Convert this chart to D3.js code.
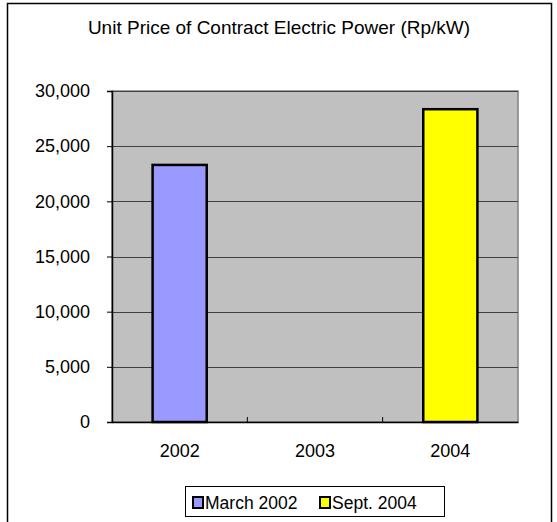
<!DOCTYPE html>
<html>
<head>
<meta charset="utf-8">
<script src="https://cdn.jsdelivr.net/npm/d3@7"></script>
<style>
body{margin:0;background:#fff;}
svg{display:block;font-family:"Liberation Sans",Arial,sans-serif;}
</style>
</head>
<body>
<div class="chart"></div>
<script>
var width=557,
    height=522;

var years=['2002','2003','2004'];
var series=['March 2002','Sept. 2004'];
var values=[23300,null,28350];
var colors=['#9999ff',null,'#ffff00'];
var legendColors=['#9999ff','#ffff00'];
var yTicks=[0,5000,10000,15000,20000,25000,30000];

var plot={left:112,top:91,right:518,bottom:422};
var font='"Liberation Sans",Arial,sans-serif';

var svg=d3.select('.chart')
    .append('svg')
    .attr('width',width)
    .attr('height',height);

// outer frame
svg.append('rect')
    .attr('x',7.5).attr('y',3.5)
    .attr('width',544).attr('height',530)
    .attr('fill','#fff')
    .attr('stroke','#000')
    .attr('stroke-width',1.5);

svg.append('text')
    .attr('x',279).attr('y',34)
    .attr('text-anchor','middle')
    .attr('font-size',19)
    .text('Unit Price of Contract Electric Power (Rp/kW)');

var x=d3.scaleBand()
    .domain(years)
    .range([plot.left,plot.right]);

var y=d3.scaleLinear()
    .domain([0,30000])
    .range([plot.bottom,plot.top]);

// plot area
svg.append('rect')
    .attr('x',plot.left).attr('y',plot.top)
    .attr('width',plot.right-plot.left).attr('height',plot.bottom-plot.top)
    .attr('fill','#c0c0c0')
    .attr('stroke','#808080')
    .attr('stroke-width',1.5);

svg.selectAll('.grid')
    .data(yTicks.slice(1))
    .enter()
    .append('line')
    .attr('x1',plot.left).attr('x2',plot.right)
    .attr('y1',d=>Math.round(y(d))+0.5).attr('y2',d=>Math.round(y(d))+0.5)
    .attr('stroke','#404040')
    .attr('stroke-width',1);

// bars
svg.selectAll('.bar')
    .data(values.map((v,i)=>({year:years[i],v:v,c:colors[i]})).filter(d=>d.v!=null))
    .enter()
    .append('rect')
    .attr('x',d=>x(d.year)+x.bandwidth()*0.3)
    .attr('width',x.bandwidth()*0.4)
    .attr('y',d=>y(d.v))
    .attr('height',d=>y(0)-y(d.v))
    .attr('fill',d=>d.c)
    .attr('stroke','#000')
    .attr('stroke-width',2.5);

// y axis
var yAxis=svg.append('g')
    .attr('transform',`translate(${plot.left},0)`)
    .call(d3.axisLeft(y).tickValues(yTicks).tickSize(5).tickPadding(17).tickFormat(d3.format(',')));
yAxis.selectAll('text').attr('font-size',18).attr('fill','#000').attr('font-family',font);
yAxis.select('.domain').attr('stroke','#000').attr('stroke-width',1.5);

// x axis
var xAxis=svg.append('g')
    .attr('transform',`translate(0,${plot.bottom})`)
    .call(d3.axisBottom(x).tickSize(0).tickPadding(22));
xAxis.selectAll('text').attr('font-size',18).attr('fill','#000').attr('font-family',font);
xAxis.select('.domain').attr('stroke','#000').attr('stroke-width',1.5);
xAxis.selectAll('.sep')
    .data(years.slice(1))
    .enter()
    .append('line')
    .attr('x1',d=>x(d)).attr('x2',d=>x(d))
    .attr('y1',0).attr('y2',-5)
    .attr('stroke','#000');

// legend
var legend=svg.append('g');
legend.append('rect')
    .attr('x',185.5).attr('y',486.5)
    .attr('width',259).attr('height',30)
    .attr('fill','#fff')
    .attr('stroke','#000');
var lx=[193,320];
series.forEach((s,i)=>{
    legend.append('rect')
        .attr('x',lx[i]).attr('y',497)
        .attr('width',10).attr('height',11)
        .attr('fill',legendColors[i])
        .attr('stroke','#000')
        .attr('stroke-width',2);
    legend.append('text')
        .attr('x',lx[i]+12).attr('y',509)
        .attr('font-size',17.5)
        .text(s);
});
</script>
</body>
</html>
